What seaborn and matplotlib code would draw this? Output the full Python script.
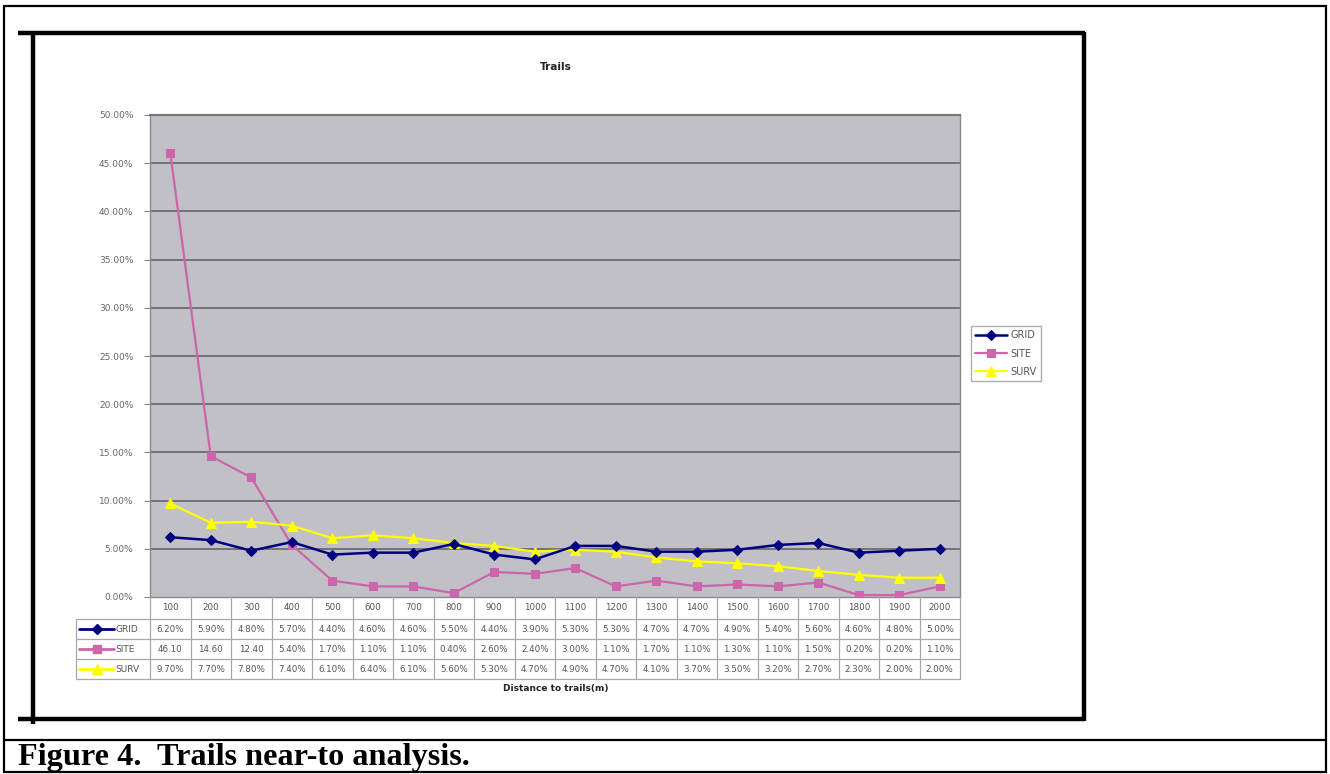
import matplotlib
matplotlib.use("Agg")
import matplotlib.pyplot as plt
from matplotlib.lines import Line2D
from matplotlib.patches import Rectangle
from matplotlib.transforms import blended_transform_factory
import numpy as np
import pandas as pd
import seaborn as sns

# distance classes (m) and share of records per class (%)
distances = [100, 200, 300, 400, 500, 600, 700, 800, 900, 1000,
             1100, 1200, 1300, 1400, 1500, 1600, 1700, 1800, 1900, 2000]
grid = [6.20, 5.90, 4.80, 5.70, 4.40, 4.60, 4.60, 5.50, 4.40, 3.90,
        5.30, 5.30, 4.70, 4.70, 4.90, 5.40, 5.60, 4.60, 4.80, 5.00]
site = [46.10, 14.60, 12.40, 5.40, 1.70, 1.10, 1.10, 0.40, 2.60, 2.40,
        3.00, 1.10, 1.70, 1.10, 1.30, 1.10, 1.50, 0.20, 0.20, 1.10]
surv = [9.70, 7.70, 7.80, 7.40, 6.10, 6.40, 6.10, 5.60, 5.30, 4.70,
        4.90, 4.70, 4.10, 3.70, 3.50, 3.20, 2.70, 2.30, 2.00, 2.00]
series_names = ["GRID", "SITE", "SURV"]
y_ticks = [0, 5, 10, 15, 20, 25, 30, 35, 40, 45, 50]

W, H = 1330, 774
sns.set_theme(style="white")
plt.rcParams["font.family"] = ["DejaVu Sans"]

fig = plt.figure(figsize=(W / 100, H / 100), dpi=100)
fig.patch.set_facecolor("white")


def fx(px):
    return px / W


def fy(py):
    return 1 - py / H


def hline(x0, x1, y, lw=1.0, color="black", **kw):
    fig.add_artist(Line2D([fx(x0), fx(x1)], [fy(y), fy(y)], lw=lw, color=color,
                          solid_capstyle="butt", transform=fig.transFigure, **kw))


def vline(x, y0, y1, lw=1.0, color="black", **kw):
    fig.add_artist(Line2D([fx(x), fx(x)], [fy(y0), fy(y1)], lw=lw, color=color,
                          solid_capstyle="butt", transform=fig.transFigure, **kw))


# outer page frame and caption separator
fig.add_artist(Rectangle((fx(3.5), fy(772)), fx(1325.5) - fx(3.5), fy(5.5) - fy(772),
                         fill=False, lw=1.6, edgecolor="black", transform=fig.transFigure))
hline(3.5, 1325.5, 739.5, lw=1.6)

# chart frame
hline(18, 1085, 33, lw=3.2)
hline(18, 1085, 719, lw=3.2)
vline(32.5, 31.5, 724, lw=3.2)
vline(1083.5, 31.5, 720.5, lw=3.2)

fig.text(fx(18), fy(757), "Figure 4.  Trails near-to analysis.", fontsize=23.2,
         fontweight="bold", family="Liberation Serif", ha="left", va="center",
         color="black")

# plot area
px_left, px_right, px_top, px_bottom = 150, 960, 115, 597
ax = fig.add_axes([fx(px_left), fy(px_bottom), fx(px_right) - fx(px_left),
                   fy(px_top) - fy(px_bottom)])
ax.set_facecolor("#c0c0c6")

df = pd.DataFrame({"idx": np.arange(len(distances)), "GRID": grid,
                   "SITE": site, "SURV": surv})
styles = {
    "GRID": dict(color="#000080", marker="D", markersize=5, lw=1.8),
    "SITE": dict(color="#cc66aa", marker="s", markersize=6, lw=1.6),
    "SURV": dict(color="#ffff00", marker="^", markersize=7, lw=1.6),
}
for name in ["SITE", "SURV", "GRID"]:
    st = styles[name]
    sns.lineplot(data=df, x="idx", y=name, ax=ax, color=st["color"], marker=st["marker"],
                 markersize=st["markersize"], markeredgecolor=st["color"],
                 linewidth=st["lw"], label=name, zorder=3)

ax.set_xlim(-0.5, len(distances) - 0.5)
ax.set_ylim(0, 50)
ax.set_yticks(y_ticks)
ax.set_yticklabels([f"{v:.2f}%" for v in y_ticks], fontsize=6.5, color="#666666")
ax.set_xticks([])
ax.set_xlabel("")
ax.set_ylabel("")
ax.tick_params(axis="y", length=4, width=0.8, color="#888888", pad=8, left=True)
for v in y_ticks[1:-1]:
    ax.axhline(v, color="#6e6e70", lw=1.3, zorder=1)
for sp in ax.spines.values():
    sp.set_color("#8a8a8a")
    sp.set_linewidth(1.0)
ax.spines["top"].set_color("#777777")
ax.spines["top"].set_linewidth(1.5)

handles, labels = ax.get_legend_handles_labels()
order = [labels.index(n) for n in series_names]
leg = ax.legend([handles[i] for i in order], [labels[i] for i in order],
                loc="upper left", bbox_to_anchor=(fx(971), fy(326)),
                bbox_transform=fig.transFigure, fontsize=7, frameon=True,
                fancybox=False, edgecolor="#999999", borderpad=0.45,
                handlelength=3.3, handletextpad=0.3, labelspacing=0.85,
                borderaxespad=0)
leg.get_frame().set_linewidth(1.0)
for t in leg.get_texts():
    t.set_color("#555555")

fig.text(fx(556), fy(67), "Trails", fontsize=7.5, fontweight="bold",
         ha="center", va="center", color="#222222")

# data table under the plot
bt = blended_transform_factory(ax.transData, fig.transFigure)
rows_y = [597, 619, 639, 659, 679]
grid_col = "#a8a8a8"
n = len(distances)
for y in rows_y[1:]:
    hline(76, px_right, y, lw=0.9, color=grid_col)
vline(76, 619, 679, lw=0.9, color=grid_col)
for i in range(n + 1):
    x = i - 0.5
    fig.add_artist(Line2D([x, x], [fy(597), fy(679)], lw=0.9, color=grid_col,
                          transform=bt))

cell_kw = dict(fontsize=6.3, color="#555555", ha="center", va="center", transform=bt)
for i, d in enumerate(distances):
    fig.text(i, fy(608), str(d), **cell_kw)


def cell_text(v, name):
    if name == "SITE" and v >= 10:
        return f"{v:.2f}"
    return f"{v:.2f}%"


for row, (name, vals) in enumerate(zip(series_names, [grid, site, surv])):
    yc = (rows_y[row + 1] + rows_y[row + 2]) / 2
    for i, v in enumerate(vals):
        fig.text(i, fy(yc), cell_text(v, name), **cell_kw)
    st = styles[name]
    fig.add_artist(Line2D([fx(79), fx(114)], [fy(yc), fy(yc)], color=st["color"],
                          lw=2.0, transform=fig.transFigure))
    fig.add_artist(Line2D([fx(96.5)], [fy(yc)], color=st["color"], marker=st["marker"],
                          markersize=st["markersize"], lw=0,
                          transform=fig.transFigure))
    fig.text(fx(115), fy(yc), name, fontsize=6.5, color="#555555", ha="left",
             va="center")

fig.text(fx(556), fy(689), "Distance to trails(m)", fontsize=6.5, fontweight="bold",
         ha="center", va="center", color="#222222")

fig.savefig("out.png", dpi=100, facecolor="white")
